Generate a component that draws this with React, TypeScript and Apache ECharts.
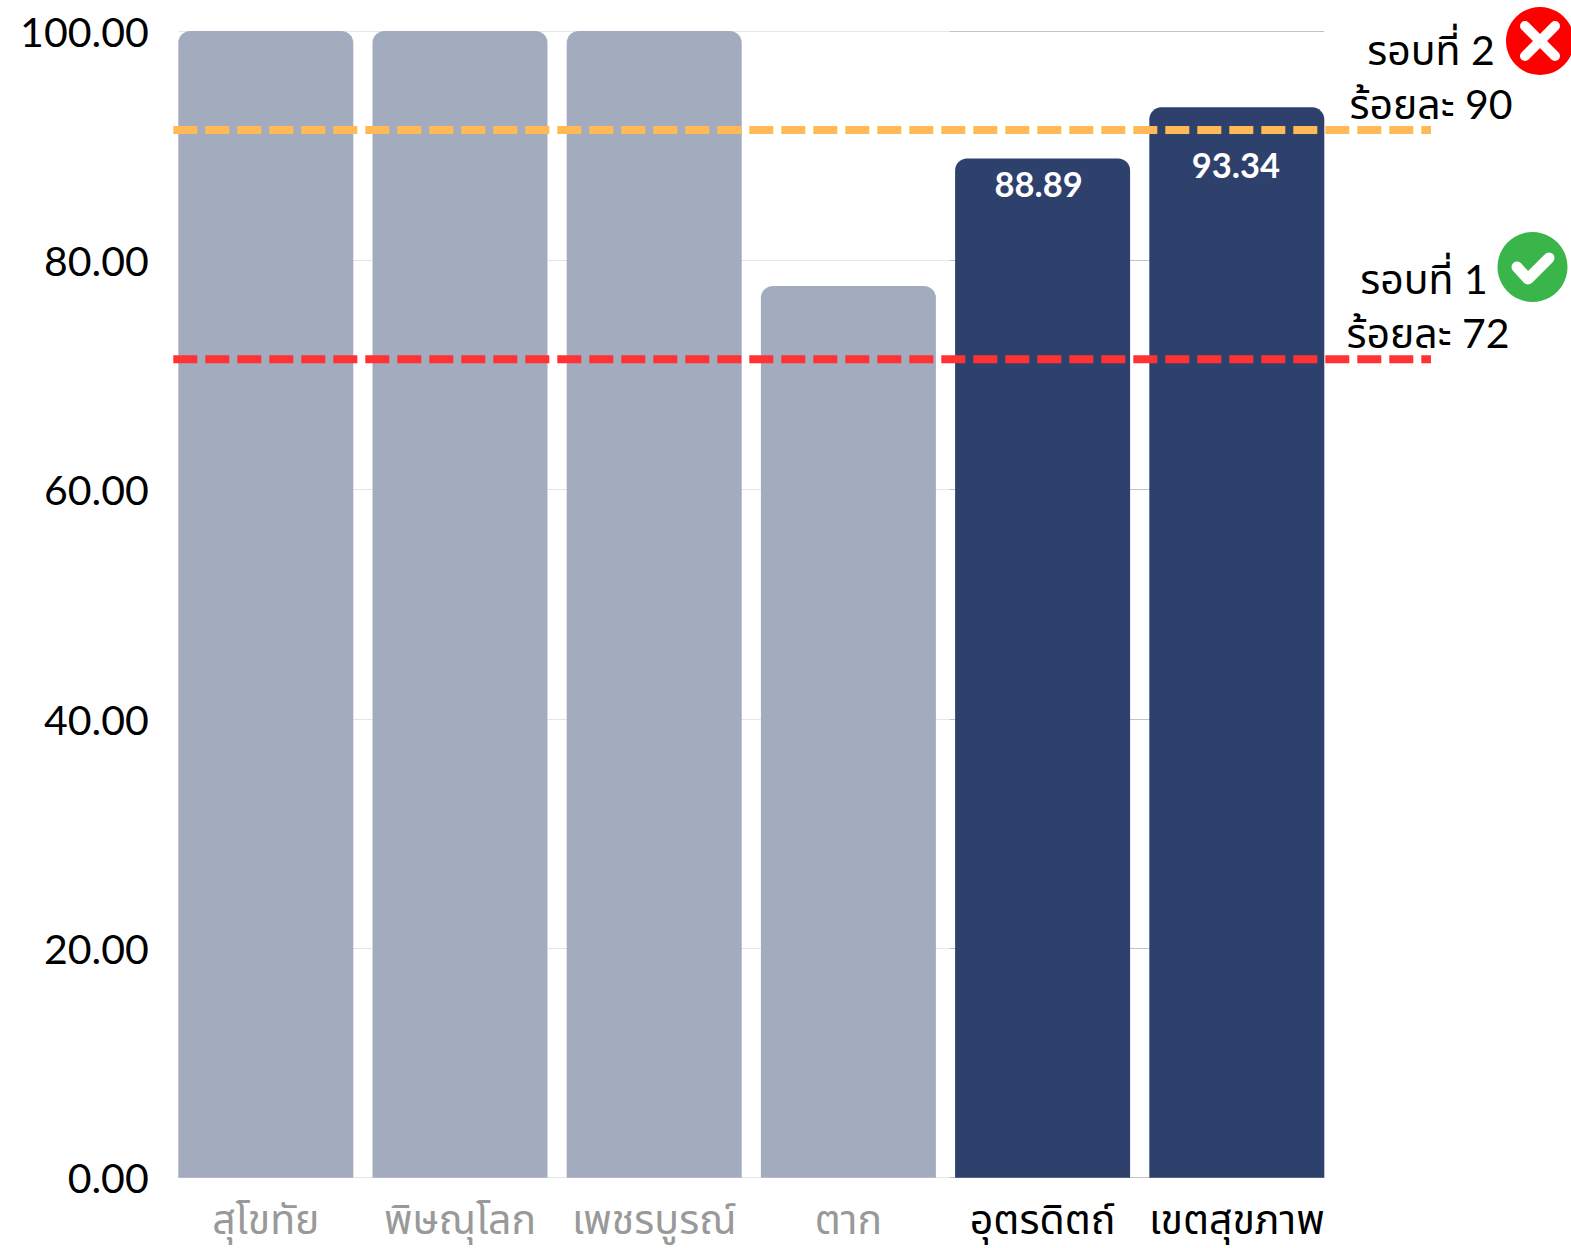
import React, { useEffect, useRef } from "react";
import * as echarts from "echarts";

const categories = ["สุโขทัย", "พิษณุโลก", "เพชรบูรณ์", "ตาก", "อุตรดิตถ์", "เขตสุขภาพ"];
const values = [100, 100, 100, 77.76, 88.89, 93.34];
const highlighted = [false, false, false, false, true, true];
const roundTwoLine = [91.37, 91.37];
const roundOneLine = [71.38, 71.38];
const lineEnds = ["start", "end"];
const labelOffsets = [[0, 0], [0, 0], [0, 0], [0, 0], [-4, 0], [-1, 32]];

const FONT = "Lato, 'Noto Sans', 'Noto Sans Thai', sans-serif";
const DARK = "#2E416D";
const FADED = "#A3ABBF";

function hiddenX(gridIndex: number, data: string[] = lineEnds) {
  return { type: "category" as const, gridIndex, data, show: false, boundaryGap: false };
}
function yAxisFor(gridIndex: number, extra: any) {
  return {
    type: "value" as const,
    gridIndex,
    min: 0,
    max: 100,
    interval: 20,
    axisLine: { show: false },
    axisTick: { show: false },
    axisLabel: { show: false },
    splitLine: { show: false },
    ...extra,
  };
}

export default function App() {
  const ref = useRef<HTMLDivElement>(null);
  useEffect(() => {
    const chart = echarts.init(ref.current!, undefined, { renderer: "svg" });
    const top = 31;
    const height = 1146.7;
    const textStyle = { font: `41px ${FONT}`, fill: "#000", align: "center", verticalAlign: "bottom" };
    chart.setOption({
      animation: false,
      backgroundColor: "#ffffff",
      grid: [
        { left: 168.7, width: 1165.2, top, height },
        { left: 178.3, width: 771.7, top, height },
        { left: 950, width: 374.3, top, height },
        { left: 173.3, width: 1257.7, top, height },
      ],
      xAxis: [
        {
          type: "category",
          gridIndex: 0,
          data: categories,
          axisLine: { show: false },
          axisTick: { show: false },
          axisLabel: {
            interval: 0,
            margin: 20.5,
            fontFamily: FONT,
            fontSize: 41,
            color: (_: any, i: number) => (highlighted[i] ? "#000000" : "#999999"),
          },
        },
        hiddenX(1),
        hiddenX(2),
        hiddenX(3),
      ],
      yAxis: [
        yAxisFor(0, {
          axisLabel: {
            show: true,
            margin: 20,
            padding: [0, 0, 2, 0],
            fontFamily: FONT,
            fontSize: 41,
            color: "#000000",
            formatter: (v: number) => v.toFixed(2),
          },
        }),
        yAxisFor(1, { splitLine: { show: true, lineStyle: { color: "#e6e6e6", width: 1 } } }),
        yAxisFor(2, { splitLine: { show: true, lineStyle: { color: "#c4c4c4", width: 1 } } }),
        yAxisFor(3, {}),
      ],
      series: [
        {
          type: "bar",
          xAxisIndex: 0,
          yAxisIndex: 0,
          barWidth: 175,
          z: 2,
          data: values.map((v, i) => ({
            value: v,
            itemStyle: { color: highlighted[i] ? DARK : FADED, borderRadius: [12, 12, 0, 0] },
            label: {
              show: highlighted[i],
              position: "insideTop",
              distance: 8,
              offset: labelOffsets[i],
              color: "#ffffff",
              fontFamily: FONT,
              fontWeight: "bold",
              fontSize: 34.5,
              formatter: (p: any) => Number(p.value).toFixed(2),
            },
          })),
        },
        {
          type: "line",
          xAxisIndex: 3,
          yAxisIndex: 3,
          data: roundTwoLine,
          symbol: "none",
          z: 5,
          lineStyle: { color: "#FFB957", width: 8, type: [24, 8] },
        },
        {
          type: "line",
          xAxisIndex: 3,
          yAxisIndex: 3,
          data: roundOneLine,
          symbol: "none",
          z: 5,
          lineStyle: { color: "#FF3333", width: 8, type: [24, 8] },
        },
      ],
      graphic: [
        { type: "text", x: 1431, y: 70, style: { ...textStyle, text: "รอบที่ 2" } },
        { type: "text", x: 1431, y: 124, style: { ...textStyle, text: "ร้อยละ 90" } },
        { type: "text", x: 1424, y: 299, style: { ...textStyle, text: "รอบที่ 1" } },
        { type: "text", x: 1428, y: 353, style: { ...textStyle, text: "ร้อยละ 72" } },
        { type: "circle", shape: { cx: 1540, cy: 41, r: 34 }, style: { fill: "#FF0000" } },
        { type: "line", shape: { x1: 1525, y1: 26, x2: 1555, y2: 56 }, style: { stroke: "#fff", lineWidth: 10, lineCap: "round" } },
        { type: "line", shape: { x1: 1555, y1: 26, x2: 1525, y2: 56 }, style: { stroke: "#fff", lineWidth: 10, lineCap: "round" } },
        { type: "circle", shape: { cx: 1532.5, cy: 267, r: 35 }, style: { fill: "#3AB54A" } },
        { type: "polyline", shape: { points: [[1517, 267], [1528, 279], [1549, 258]] }, style: { stroke: "#fff", fill: "none", lineWidth: 11, lineCap: "round", lineJoin: "round" } },
      ],
    });
    return () => chart.dispose();
  }, []);
  return <div ref={ref} style={{ position: "fixed", left: 0, top: 0, width: 1571, height: 1248 }} />;
}
